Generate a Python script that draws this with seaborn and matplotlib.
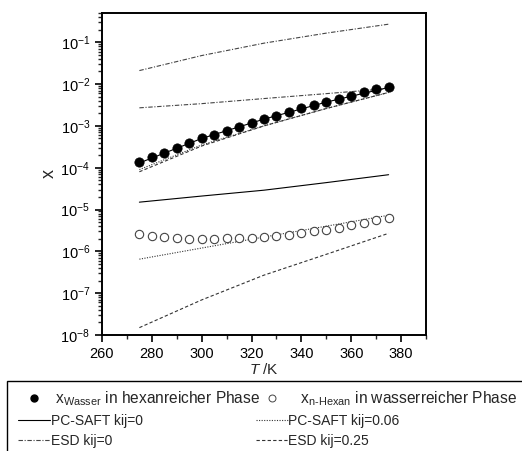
import matplotlib
matplotlib.use("Agg")
import matplotlib.pyplot as plt
import seaborn as sns
import numpy as np
import pandas as pd
from matplotlib.lines import Line2D
from matplotlib.patches import Rectangle
from matplotlib.ticker import LogLocator, MultipleLocator, NullFormatter

# ---- data ----
T_exp = [275, 280, 285, 290, 295, 300, 305, 310, 315, 320, 325,
         330, 335, 340, 345, 350, 355, 360, 365, 370, 375]
x_wasser = [1.35e-4, 1.8e-4, 2.3e-4, 3.0e-4, 3.9e-4, 5.1e-4, 6.2e-4, 7.7e-4,
            9.6e-4, 1.15e-3, 1.43e-3, 1.73e-3, 2.13e-3, 2.66e-3, 3.1e-3,
            3.8e-3, 4.5e-3, 5.3e-3, 6.3e-3, 7.5e-3, 8.6e-3]
x_hexan = [2.6e-6, 2.35e-6, 2.2e-6, 2.07e-6, 2.0e-6, 2.0e-6, 2.0e-6, 2.03e-6,
           2.07e-6, 2.14e-6, 2.24e-6, 2.35e-6, 2.45e-6, 2.7e-6, 3.0e-6,
           3.3e-6, 3.7e-6, 4.2e-6, 4.8e-6, 5.5e-6, 6.2e-6]

T_mod = [275, 300, 325, 350, 375]
pcsaft0_w = [1.3e-4, 5.0e-4, 1.45e-3, 3.7e-3, 8.3e-3]
pcsaft0_h = [1.5e-5, 2.1e-5, 2.9e-5, 4.4e-5, 6.8e-5]
pcsaft006_w = [9e-5, 3.5e-4, 1.0e-3, 2.6e-3, 6.3e-3]
pcsaft006_h = [6.5e-7, 1.2e-6, 2.2e-6, 4.0e-6, 7.3e-6]
esd0_a = [0.021, 0.048, 0.095, 0.165, 0.27]
esd0_b = [2.7e-3, 3.4e-3, 4.5e-3, 5.9e-3, 7.8e-3]
esd025_w = [8e-5, 3.3e-4, 1.0e-3, 2.6e-3, 6.3e-3]
esd025_h = [1.5e-8, 6.9e-8, 2.7e-7, 8.5e-7, 2.7e-6]

labels = [r" x$_{\mathregular{Wasser}}$ in hexanreicher Phase",
          r"   x$_{\mathregular{n\text{-}Hexan}}$ in wasserreicher Phase",
          "PC-SAFT kij=0", "PC-SAFT kij=0.06", "ESD kij=0", "ESD kij=0.25"]

sns.set_style("ticks")
plt.rcParams['font.family'] = ['Liberation Sans', 'DejaVu Sans']
plt.rcParams['mathtext.fontset'] = 'custom'
plt.rcParams['mathtext.rm'] = 'Liberation Sans'
plt.rcParams['mathtext.it'] = 'Liberation Sans:italic'
plt.rcParams['font.size'] = 10

fig = plt.figure(figsize=(5.22, 4.51), dpi=100)
ax = fig.add_axes([0.1954, 0.2572, 0.8161 - 0.1954, 0.9712 - 0.2572])
ax.set_yscale('log')

lw = 0.8
styles = {
    'solid': dict(color='black', lw=lw, ls='-'),
    'dotted': dict(color='#333333', lw=lw, ls=(0, (1, 1.3))),
    'dashdot': dict(color='#444444', lw=lw, ls=(0, (4, 1.5, 1, 1.5))),
    'dashed': dict(color='#333333', lw=lw, ls=(0, (3, 2))),
}

def line(y, st):
    sns.lineplot(x=T_mod, y=y, ax=ax, **styles[st])

line(pcsaft0_w, 'solid')
line(pcsaft0_h, 'solid')
line(pcsaft006_w, 'dotted')
line(pcsaft006_h, 'dotted')
line(esd0_a, 'dashdot')
line(esd0_b, 'dashdot')
line(esd025_w, 'dashed')
line(esd025_h, 'dashed')

sns.scatterplot(x=T_exp, y=x_wasser, ax=ax, s=45, color='black',
                edgecolor='black', linewidth=0.5, zorder=5)
sns.scatterplot(x=T_exp, y=x_hexan, ax=ax, s=36, facecolor='white',
                edgecolor='#444444', linewidth=0.8, zorder=5)

ax.set_xlim(260, 390)
ax.set_ylim(1e-8, 0.5)
ax.xaxis.set_major_locator(MultipleLocator(20))
ax.xaxis.set_minor_locator(MultipleLocator(10))
ax.yaxis.set_major_locator(LogLocator(base=10, numticks=20))
ax.yaxis.set_minor_locator(LogLocator(base=10, subs=np.arange(2, 10), numticks=20))
ax.yaxis.set_minor_formatter(NullFormatter())
ax.tick_params(which='major', direction='out', length=5, width=1.2, labelsize=10.5,
               colors='black', top=False, right=False)
ax.tick_params(which='minor', direction='out', length=3, width=1.0,
               top=False, right=False)
for sp in ax.spines.values():
    sp.set_linewidth(1.4)
    sp.set_color('black')
    sp.set_visible(True)

ax.set_xlabel(r"$\mathit{T}$ /K", fontsize=11, labelpad=1)
ax.set_ylabel("x", fontsize=13, labelpad=2)

handles = [
    Line2D([], [], marker='o', color='black', ls='none', markersize=5),
    Line2D([], [], **styles['solid']),
    Line2D([], [], **styles['dashdot']),
    Line2D([], [], marker='o', markerfacecolor='white', markeredgecolor='#444444',
           ls='none', markersize=5, markeredgewidth=0.7),
    Line2D([], [], **styles['dotted']),
    Line2D([], [], **styles['dashed']),
]
leg_labels = [labels[0], labels[2], labels[4], labels[1], labels[3], labels[5]]
leg = fig.legend(handles, leg_labels, loc='upper left',
                 bbox_to_anchor=(18 / 522, 1 - 389 / 451), ncol=2, fontsize=10,
                 frameon=False, handlelength=2.3,
                 handletextpad=0.05, columnspacing=-0.3, labelspacing=0.45,
                 borderpad=0.0, borderaxespad=0)
texts = leg.get_texts()
texts[0].set_fontsize(11.2)
texts[3].set_fontsize(11.2)

# legend box (extends beyond the figure edges as in the reference)
fig.patches.append(Rectangle((7 / 522, -0.2), 1.5, 0.2 + 1 - 381 / 451,
                             transform=fig.transFigure, fill=False,
                             edgecolor='black', linewidth=1.0))

fig.savefig("out.png", dpi=100)
